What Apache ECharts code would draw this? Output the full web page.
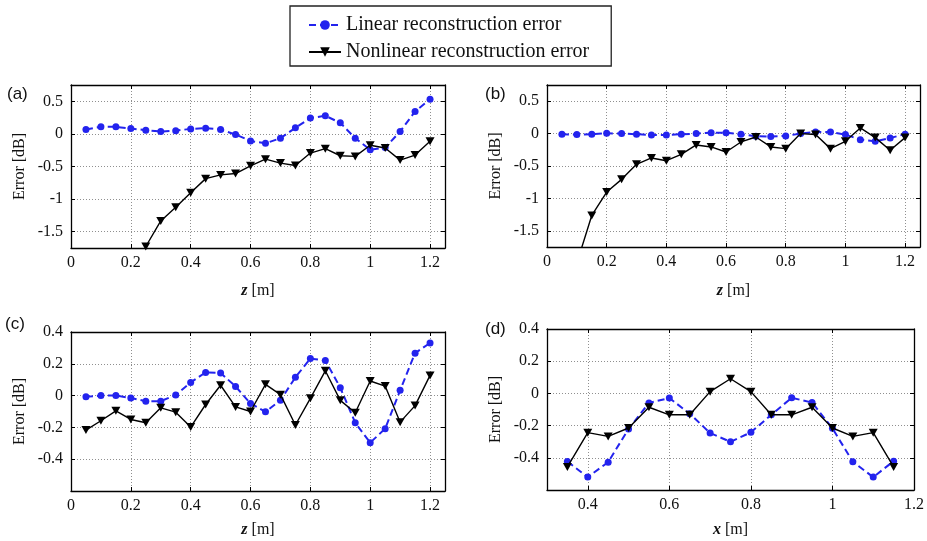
<!DOCTYPE html>
<html><head><meta charset="utf-8">
<script src="https://cdn.jsdelivr.net/npm/echarts@6/dist/echarts.min.js"></script>
<style>html,body{margin:0;padding:0;background:#fff}#c{width:927px;height:541px}</style>
</head><body><div id="c"></div><script>
// ---- data ----
const zPos = [0.05,0.10,0.15,0.20,0.25,0.30,0.35,0.40,0.45,0.50,0.55,0.60,0.65,0.70,0.75,0.80,0.85,0.90,0.95,1.00,1.05,1.10,1.15,1.20];
const xPos = [0.35,0.40,0.45,0.50,0.55,0.60,0.65,0.70,0.75,0.80,0.85,0.90,0.95,1.00,1.05,1.10,1.15];

const aLinear = [0.067,0.108,0.108,0.082,0.057,0.036,0.05,0.077,0.088,0.067,-0.01,-0.108,-0.144,-0.067,0.093,0.242,0.278,0.17,-0.067,-0.242,-0.21,0.036,0.345,0.53];
const aNonlin = [null,null,null,null,-1.727,-1.335,-1.124,-0.902,-0.686,-0.629,-0.608,-0.49,-0.387,-0.448,-0.485,-0.294,-0.227,-0.335,-0.345,-0.175,-0.216,-0.402,-0.325,-0.113];

const bLinear = [-0.01,-0.015,-0.01,0.005,0,-0.01,-0.02,-0.02,-0.01,0,0.015,0.015,-0.01,-0.04,-0.046,-0.036,0,0.026,0.026,-0.015,-0.093,-0.119,-0.067,-0.01];
const bNonlin = [null,-2.0,-1.263,-0.902,-0.706,-0.474,-0.376,-0.418,-0.32,-0.175,-0.206,-0.284,-0.129,-0.052,-0.206,-0.232,0,-0.015,-0.232,-0.119,0.088,-0.062,-0.258,-0.062];

const cLinear = [-0.008,0,0,-0.015,-0.035,-0.035,0.004,0.083,0.146,0.142,0.058,-0.05,-0.102,-0.03,0.115,0.233,0.221,0.05,-0.171,-0.296,-0.208,0.033,0.267,0.331];
const cNonlin = [-0.217,-0.158,-0.096,-0.15,-0.171,-0.077,-0.104,-0.198,-0.056,0.065,-0.071,-0.1,0.071,0.006,-0.185,-0.017,0.156,-0.03,-0.108,0.092,0.06,-0.167,-0.063,0.127];

const dLinear = [-0.423,-0.52,-0.427,-0.221,-0.059,-0.029,-0.126,-0.246,-0.301,-0.242,-0.133,-0.027,-0.057,-0.217,-0.425,-0.52,-0.421];
const dNonlin = [-0.457,-0.244,-0.267,-0.215,-0.086,-0.133,-0.133,0.011,0.091,0.011,-0.133,-0.133,-0.086,-0.215,-0.267,-0.244,-0.457];

const panelLabels = ['(a)','(b)','(c)','(d)'];
const seriesNames = ['Linear reconstruction error','Nonlinear reconstruction error'];
const yTitle = 'Error [dB]';
const xTitles = ['z','z','z','x'];

// ---- layout ----
const grids = [
  {left:71, top:85, width:374, height:163},
  {left:547, top:85, width:373, height:162},
  {left:71, top:332, width:374, height:159},
  {left:547, top:329, width:371, height:161}
];
const xNameGaps = [35, 36, 31, 32];
const xRanges = [
  {min:0, max:1.25, interval:0.2},
  {min:0, max:1.25, interval:0.2},
  {min:0, max:1.25, interval:0.2},
  {min:0.3, max:1.2, splitNumber:5}
];
const yRanges = [
  {min:-1.75, max:0.75, splitNumber:5},
  {min:-1.75, max:0.75, splitNumber:5},
  {min:-0.6, max:0.4, interval:0.2},
  {min:-0.6, max:0.4, interval:0.2}
];
const labelPos = [
  {left:7, top:86},{left:485, top:86},{left:5, top:316},{left:485, top:321}
];
const panelData = [
  [zPos, aLinear, aNonlin],[zPos, bLinear, bNonlin],[zPos, cLinear, cNonlin],[xPos, dLinear, dNonlin]
];

const SERIF = '"Liberation Serif","DejaVu Serif",serif';
const BLUE = '#2323ee';
const tri = 'path://M0,0L10,0L5,9Z';
const axisLineStyle = {show:true, onZero:false, lineStyle:{color:'#000', width:1.3}};
const tickStyle = {show:true, inside:true, length:4, lineStyle:{color:'#000', width:1}};
const splitStyle = {show:true, lineStyle:{color:'#8f8f8f', type:[1,2], width:1}};

const xAxes = [], yAxes = [], series = [];
grids.forEach((g,i)=>{
  const xr = xRanges[i], yr = yRanges[i];
  const hideMinX = i===3;
  xAxes.push(Object.assign({
    type:'value', gridIndex:i, position:'bottom',
    axisLine:axisLineStyle, axisTick:tickStyle, splitLine:splitStyle,
    axisLabel:{color:'#111', fontFamily:SERIF, fontSize:16, margin:7, showMinLabel:!hideMinX, showMaxLabel:i===3},
    name: '{i|'+xTitles[i]+'} [m]', nameLocation:'middle', nameGap:xNameGaps[i],
    nameTextStyle:{color:'#111', fontFamily:SERIF, fontSize:16,
      rich:{i:{fontStyle:'italic', fontWeight:'bold', fontFamily:SERIF, fontSize:16, color:'#111'}}}
  }, xr));
  xAxes.push(Object.assign({
    type:'value', gridIndex:i, position:'top',
    axisLine:axisLineStyle, axisTick:tickStyle, splitLine:{show:false}, axisLabel:{show:false}
  }, xr));
  yAxes.push(Object.assign({
    type:'value', gridIndex:i, position:'left',
    axisLine:axisLineStyle, axisTick:tickStyle, splitLine:splitStyle,
    axisLabel:{color:'#111', fontFamily:SERIF, fontSize:16, margin:8, showMinLabel:false, showMaxLabel:i>=2,
      formatter:v=>String(Math.round(v*100)/100)},
    name: yTitle, nameLocation:'middle', nameGap:43,
    nameTextStyle:{color:'#111', fontFamily:SERIF, fontSize:16}
  }, yr));
  yAxes.push(Object.assign({
    type:'value', gridIndex:i, position:'right',
    axisLine:axisLineStyle, axisTick:tickStyle, splitLine:{show:false}, axisLabel:{show:false}
  }, yr));
  const [xs, lin, non] = panelData[i];
  series.push({
    name:seriesNames[0], type:'line', xAxisIndex:2*i, yAxisIndex:2*i,
    data: xs.map((x,k)=>[x, lin[k]]),
    symbol:'circle', symbolSize:7, clip:true,
    lineStyle:{color:BLUE, width:2, type:[7,4]},
    itemStyle:{color:BLUE}, z:2
  });
  series.push({
    name:seriesNames[1], type:'line', xAxisIndex:2*i, yAxisIndex:2*i,
    data: xs.map((x,k)=>[x, non[k]]),
    symbol:tri, symbolSize:[9,8], clip:true,
    lineStyle:{color:'#000', width:1.4},
    itemStyle:{color:'#000'}, z:3
  });
});

const titles = panelLabels.map((t,i)=>({
  text:t, left:labelPos[i].left, top:labelPos[i].top, padding:0,
  textStyle:{fontFamily:'"Liberation Sans",Arial,sans-serif', fontSize:17, fontWeight:'normal', color:'#111'}
}));

const chart = echarts.init(document.getElementById('c'), null, {renderer:'canvas'});
chart.setOption({
  backgroundColor:'#fff',
  animation:false,
  title: titles,
  legend:{
    data:seriesNames, orient:'vertical', left:290, top:6,
    padding:[8,22,3,18], itemGap:5, itemWidth:32, itemHeight:12,
    borderColor:'#222', borderWidth:1.3,
    textStyle:{fontFamily:SERIF, fontSize:20, color:'#111', lineHeight:22}
  },
  grid: grids,
  xAxis: xAxes,
  yAxis: yAxes,
  series: series
});
</script></body></html>
